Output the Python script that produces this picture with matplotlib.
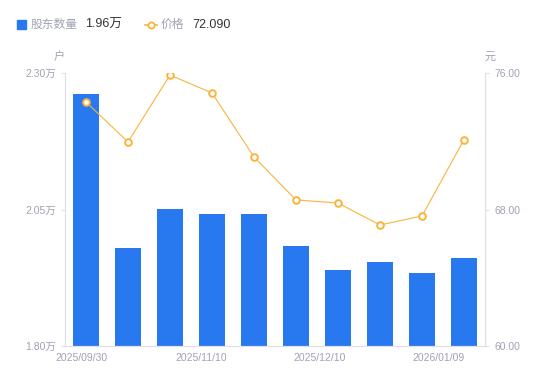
import matplotlib

matplotlib.use("Agg")
import matplotlib.pyplot as plt
from matplotlib.lines import Line2D
from matplotlib.patches import Rectangle
import numpy as np

plt.rcParams["font.family"] = ["Liberation Sans", "Noto Sans CJK SC", "DejaVu Sans"]

# holders in 10k (万), price in 元
holders = [2.262, 1.980, 2.051, 2.042, 2.041, 1.983, 1.939, 1.954, 1.934, 1.961]
prices = [74.30, 71.96, 75.88, 74.83, 71.08, 68.56, 68.38, 67.09, 67.62, 72.09]
tick_labels = ["2025/09/30", "2025/11/10", "2025/12/10", "2026/01/09"]
left_ticks = [1.80, 2.05, 2.30]
right_ticks = [60.0, 68.0, 76.0]

BLUE = "#2878f0"
ORANGE = "#f9b43c"
GRAY = "#a0a2b3"
AXIS = "#e0e0e6"

fig = plt.figure(figsize=(5.5, 3.81), dpi=100)
ax = fig.add_axes([65 / 550, 1 - 346 / 381, 420 / 550, 273 / 381])
ax2 = ax.twinx()

x = np.arange(len(holders))
ax.bar(x, holders, width=0.6, color=BLUE, zorder=2)
ax.set_xlim(-0.5, len(holders) - 0.5)
ax.set_ylim(1.80, 2.30)
ax.set_yticks(left_ticks)
ax.set_yticklabels([f"{v:.2f}万" for v in left_ticks])

ax2.plot(x, prices, color=ORANGE, lw=0.8, marker="o", ms=4.8,
         mfc="white", mec=ORANGE, mew=1.4, zorder=3)
ax2.set_ylim(60, 76)
ax2.set_yticks(right_ticks)
ax2.set_yticklabels([f"{v:.2f}" for v in right_ticks])

# category labels spread evenly along the axis
ax.set_xticks(np.linspace(-0.1, 8.4, len(tick_labels)))
ax.set_xticklabels(tick_labels)

for a in (ax, ax2):
    a.spines["top"].set_visible(False)
    for side in ("left", "right", "bottom"):
        a.spines[side].set_color(AXIS)
        a.spines[side].set_linewidth(0.8)
    a.tick_params(colors=AXIS, labelcolor=GRAY, labelsize=7.5, length=3, width=0.8)
ax.tick_params(axis="x", length=0, pad=5)

fig.text(59 / 550, 1 - 57 / 381, "户", color=GRAY, fontsize=8, ha="center", va="center")
fig.text(490 / 550, 1 - 57 / 381, "元", color=GRAY, fontsize=8, ha="center", va="center")

# legend drawn by hand
ly = 1 - 24.5 / 381
fig.patches.append(Rectangle((17 / 550, 1 - 29 / 381), 9 / 550, 9 / 381,
                             transform=fig.transFigure, color=BLUE, figure=fig))
fig.text(31 / 550, ly, "股东数量", color=GRAY, fontsize=8.5, va="center")
fig.text(85 / 550, ly, f"{holders[-1]:.2f}万", color="#333333", fontsize=9, va="center")
fig.lines.append(Line2D([145 / 550, 157 / 550], [ly] * 2, transform=fig.transFigure,
                        color=ORANGE, lw=1.2, figure=fig))
fig.lines.append(Line2D([151 / 550], [ly], transform=fig.transFigure, color=ORANGE,
                        marker="o", ms=4.5, mfc="white", mew=1.3, figure=fig))
fig.text(161 / 550, ly, "价格", color=GRAY, fontsize=8.5, va="center")
fig.text(192 / 550, ly, f"{prices[-1]:.3f}", color="#333333", fontsize=9, va="center")

fig.savefig("out.png", dpi=100)
